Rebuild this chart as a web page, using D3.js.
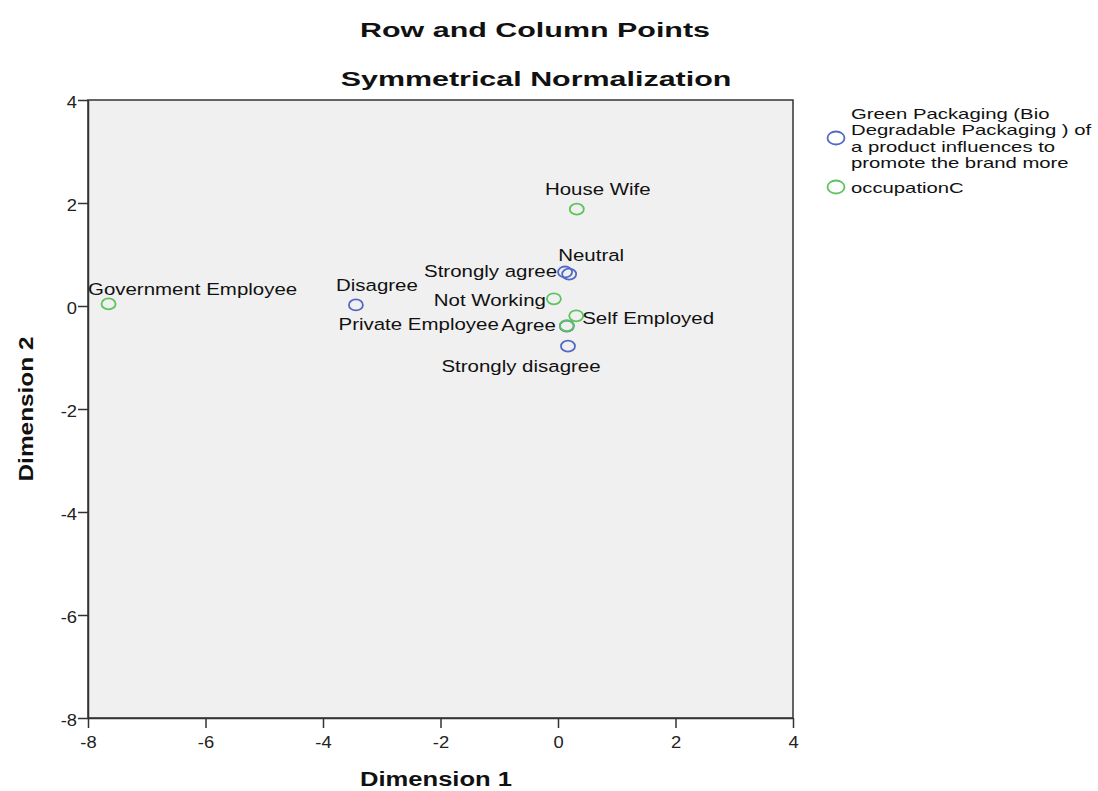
<!DOCTYPE html>
<html><head><meta charset="utf-8">
<script src="https://cdn.jsdelivr.net/npm/d3@7"></script>
<style>body{margin:0;background:#fff;} svg{display:block;}</style>
</head><body>
<svg id="chart" width="1098" height="791"></svg>
<script>
// ---- data ----
const labels = ["House Wife","Neutral","Strongly agree","Not Working","Self Employed","Agree","Private Employee","Strongly disagree","Disagree","Government Employee"];
const dim1 = [0.32, 0.19, 0.12, -0.07, 0.31, 0.15, 0.15, 0.17, -3.44, -7.65];
const dim2 = [1.88, 0.62, 0.66, 0.14, -0.19, -0.39, -0.38, -0.78, 0.02, 0.04];
const group = ["occ","resp","resp","occ","occ","resp","occ","resp","resp","occ"];
const xTicks = [-8,-6,-4,-2,0,2,4];
const yTicks = [-8,-6,-4,-2,0,2,4];
const legendLabels = [["Green Packaging (Bio","Degradable Packaging ) of","a product influences to","promote the brand more"],["occupationC"]];
// label placement (layout only): dx, dy, anchor
const labelLayout = [[21,-20,"middle"],[22,-19,"middle"],[-8,-1,"end"],[-8,1,"end"],[6,2,"start"],[-11,-1,"end"],[-68,-1,"end"],[-47,20,"middle"],[21,-20,"middle"],[84,-15,"middle"]];

const svg = d3.select("#chart");
const m = {l:88, r:793, t:100, b:718};
const x = d3.scaleLinear().domain([-8,4]).range([m.l, m.r]);
const y = d3.scaleLinear().domain([-8,4]).range([m.b, m.t]);
const col = {resp:"#5468c4", occ:"#5cc45c"};
const font = "'Liberation Sans', Arial, sans-serif";

// helper: horizontally stretched text (reference image is stretched)
function stext(g, tx, ty, str, opt){
  return g.append("text")
    .attr("transform",`translate(${tx},${ty}) ${opt.rot?`rotate(${opt.rot}) `:""}scale(${opt.sx||1},1)`)
    .attr("text-anchor",opt.anchor||"start").attr("dy",opt.dy||null)
    .attr("font-family",font).attr("font-weight",opt.bold?"bold":"normal")
    .attr("font-size",opt.size).attr("fill","#111").text(str);
}

svg.append("rect").attr("x",m.l).attr("y",m.t).attr("width",m.r-m.l).attr("height",m.b-m.t)
  .attr("fill","#f0f0f0").attr("stroke","#333").attr("stroke-width",1.5);

const xa = svg.append("g").attr("transform",`translate(0,${m.b})`)
  .call(d3.axisBottom(x).tickValues(xTicks).tickSize(10).tickSizeOuter(0).tickFormat(d=>String(d)));
const ya = svg.append("g").attr("transform",`translate(${m.l},0)`)
  .call(d3.axisLeft(y).tickValues(yTicks).tickSize(10).tickSizeOuter(0).tickFormat(d=>String(d)));
[xa,ya].forEach(a=>{
  a.select(".domain").attr("stroke","#333").attr("stroke-width",1.5);
  a.selectAll(".tick line").attr("stroke","#333").attr("stroke-width",1.5);
  a.selectAll(".tick text").attr("font-family",font).attr("font-size",17).attr("fill","#222");
});
xa.selectAll(".tick text").attr("y",null).attr("dy",null)
  .attr("transform","translate(0,30) scale(1.08,1)");
ya.selectAll(".tick text").attr("x",null).attr("dy",null)
  .attr("transform","translate(-11,7) scale(1.08,1)");

// titles
stext(svg,535,37,"Row and Column Points",{size:21,bold:true,sx:1.45,anchor:"middle"});
stext(svg,536,86,"Symmetrical Normalization",{size:21,bold:true,sx:1.45,anchor:"middle"});
stext(svg,436,786,"Dimension 1",{size:20,bold:true,sx:1.28,anchor:"middle"});
stext(svg,33,409,"Dimension 2",{size:20,bold:true,sx:1.22,anchor:"middle",rot:-90});

// points
const idx = d3.range(labels.length);
svg.append("g").selectAll("ellipse").data(idx).join("ellipse")
  .attr("cx",i=>x(dim1[i])).attr("cy",i=>y(dim2[i])).attr("rx",7).attr("ry",5.5)
  .attr("fill","none").attr("stroke",i=>col[group[i]]).attr("stroke-width",1.8);
const lab = svg.append("g");
idx.forEach(i=>stext(lab, x(dim1[i])+labelLayout[i][0], y(dim2[i])+labelLayout[i][1], labels[i],
  {size:16.5, sx:1.24, anchor:labelLayout[i][2], dy:"0.35em"}));

// legend
const lg = svg.append("g");
lg.append("ellipse").attr("cx",836).attr("cy",138).attr("rx",8.5).attr("ry",6.5).attr("fill","none").attr("stroke",col.resp).attr("stroke-width",1.8);
legendLabels[0].forEach((t,k)=>stext(lg,851,114+k*16.3,t,{size:14.5,sx:1.4,dy:"0.35em"}));
lg.append("ellipse").attr("cx",836).attr("cy",187).attr("rx",8.5).attr("ry",6.5).attr("fill","none").attr("stroke",col.occ).attr("stroke-width",1.8);
legendLabels[1].forEach((t,k)=>stext(lg,851,188+k*16.3,t,{size:14.5,sx:1.4,dy:"0.35em"}));
</script>
</body></html>
